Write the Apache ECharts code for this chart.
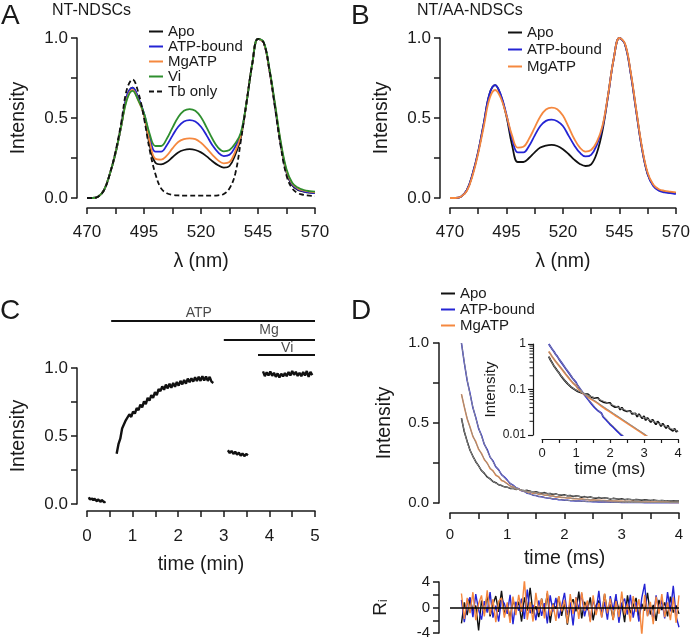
<!DOCTYPE html>
<html><head><meta charset="utf-8">
<script src="https://cdn.jsdelivr.net/npm/echarts@6/dist/echarts.min.js"></script>
<style>html,body{margin:0;padding:0;background:#fff}#c{width:693px;height:642px}</style>
</head><body><div id="c"></div>
<script>
// ---------- Panel A / B : emission spectra ----------
const wavelengths = [470,472.5,475,477.5,480,482.5,485,487.5,490,492.5,495,497.5,500,502.5,505,507.5,510,512.5,515,517.5,520,522.5,525,527.5,530,532.5,535,537.5,540,542.5,545,547.5,550,552.5,555,557.5,560,562.5,565,567.5,570];
const specA_Apo = [0,0,0.01,0.05,0.15,0.28,0.45,0.635,0.69,0.625,0.52,0.33,0.22,0.21,0.225,0.255,0.285,0.30,0.305,0.30,0.285,0.26,0.23,0.205,0.19,0.20,0.27,0.38,0.60,0.84,0.995,0.97,0.80,0.57,0.33,0.16,0.08,0.05,0.04,0.033,0.03];
const specA_ATP = [0,0,0.01,0.05,0.15,0.28,0.45,0.64,0.69,0.625,0.53,0.38,0.29,0.29,0.33,0.39,0.445,0.478,0.487,0.478,0.445,0.39,0.33,0.285,0.262,0.27,0.32,0.40,0.60,0.84,0.995,0.97,0.80,0.57,0.335,0.165,0.085,0.055,0.042,0.035,0.03];
const specA_Mg = [0,0,0.01,0.05,0.15,0.28,0.45,0.62,0.675,0.61,0.52,0.35,0.245,0.24,0.265,0.31,0.35,0.368,0.373,0.368,0.345,0.31,0.27,0.235,0.217,0.225,0.29,0.39,0.60,0.84,0.995,0.97,0.80,0.575,0.34,0.17,0.09,0.06,0.047,0.04,0.036];
const specA_Vi = [0,0,0.01,0.05,0.15,0.28,0.45,0.615,0.67,0.61,0.53,0.40,0.325,0.325,0.37,0.44,0.505,0.545,0.556,0.545,0.505,0.44,0.37,0.315,0.292,0.30,0.34,0.41,0.60,0.84,0.995,0.975,0.81,0.585,0.35,0.18,0.095,0.065,0.05,0.043,0.04];
const specA_Tb = [0,0,0.01,0.05,0.15,0.29,0.47,0.68,0.74,0.66,0.50,0.30,0.15,0.06,0.03,0.02,0.016,0.015,0.015,0.015,0.015,0.015,0.015,0.017,0.025,0.06,0.15,0.36,0.60,0.84,0.995,0.97,0.80,0.56,0.32,0.14,0.06,0.03,0.02,0.015,0.012];
const specB_Apo = [0,0,0.01,0.05,0.15,0.29,0.47,0.65,0.705,0.64,0.51,0.33,0.225,0.225,0.25,0.285,0.315,0.328,0.332,0.325,0.305,0.275,0.24,0.213,0.20,0.21,0.28,0.42,0.64,0.87,1.0,0.96,0.78,0.54,0.31,0.15,0.08,0.05,0.04,0.033,0.03];
const specB_ATP = [0,0,0.01,0.05,0.15,0.29,0.47,0.65,0.705,0.645,0.52,0.37,0.285,0.285,0.325,0.39,0.45,0.482,0.49,0.48,0.45,0.39,0.33,0.283,0.26,0.27,0.33,0.44,0.64,0.87,1.0,0.96,0.78,0.54,0.31,0.15,0.075,0.045,0.035,0.03,0.025];
const specB_Mg = [0,0,0.01,0.045,0.14,0.28,0.45,0.62,0.675,0.625,0.515,0.39,0.315,0.32,0.37,0.44,0.51,0.553,0.565,0.555,0.515,0.445,0.37,0.315,0.29,0.30,0.35,0.45,0.645,0.87,1.0,0.965,0.79,0.55,0.32,0.16,0.085,0.055,0.045,0.04,0.035];

// ---------- Panel C : time course ----------
const tC1 = [0.04,0.06,0.08,0.1,0.12,0.14,0.16,0.18,0.2,0.22,0.24,0.26,0.28,0.3,0.32,0.34,0.36,0.38,0.4];
const vC1 = [0.05,0.035,0.045,0.03,0.04,0.025,0.04,0.03,0.035,0.02,0.035,0.025,0.03,0.015,0.03,0.02,0.025,0.012,0.02];
const tC2 = [0.65,0.69,0.73,0.77,0.81,0.85,0.89,0.93,0.97,1.01,1.05,1.09,1.13,1.17,1.21,1.25,1.29,1.33,1.37,1.41,1.45,1.49,1.53,1.57,1.61,1.65,1.69,1.73,1.77,1.81,1.85,1.89,1.93,1.97,2.01,2.05,2.09,2.13,2.17,2.21,2.25,2.29,2.33,2.37,2.41,2.45,2.49,2.53,2.57,2.61,2.65,2.69,2.73,2.77];
const vC2 = [0.37,0.44,0.48,0.555,0.565,0.615,0.605,0.66,0.64,0.68,0.665,0.705,0.69,0.73,0.71,0.755,0.735,0.78,0.76,0.8,0.78,0.822,0.8,0.845,0.83,0.865,0.84,0.878,0.85,0.885,0.855,0.89,0.862,0.897,0.87,0.905,0.88,0.912,0.885,0.922,0.895,0.925,0.9,0.932,0.905,0.936,0.905,0.94,0.908,0.938,0.905,0.935,0.9,0.89];
const tC3 = [3.09,3.13,3.17,3.21,3.25,3.29,3.33,3.37,3.41,3.45,3.49,3.53];
const vC3 = [0.395,0.375,0.39,0.368,0.385,0.362,0.378,0.355,0.372,0.352,0.368,0.358];
const tC4 = [3.86,3.9,3.94,3.98,4.02,4.06,4.1,4.14,4.18,4.22,4.26,4.3,4.34,4.38,4.42,4.46,4.5,4.54,4.58,4.62,4.66,4.7,4.74,4.78,4.82,4.86,4.9,4.94];
const vC4 = [0.975,0.94,0.968,0.945,0.975,0.942,0.965,0.935,0.96,0.93,0.958,0.938,0.962,0.94,0.97,0.945,0.978,0.95,0.972,0.942,0.965,0.94,0.97,0.945,0.978,0.935,0.972,0.948];
const treatNames = ['ATP','Mg','Vi'];
const treatStart = [0.53,3.0,3.75];
const treatEnd = [5,5,5];
const treatLevel = [0.709,0.364,0.091];
const treatLabelX = [2.45,3.99,4.39];
const treatLabelLevel = [0.845,0.536,0.212];

// ---------- Panel D : decays ----------
const tD = [0.2,0.25,0.3,0.35,0.4,0.45,0.5,0.55,0.6,0.65,0.7,0.75,0.8,0.85,0.9,0.95,1,1.05,1.1,1.15,1.2,1.25,1.3,1.35,1.4,1.45,1.5,1.55,1.6,1.65,1.7,1.75,1.8,1.85,1.9,1.95,2,2.05,2.1,2.15,2.2,2.25,2.3,2.35,2.4,2.45,2.5,2.55,2.6,2.65,2.7,2.75,2.8,2.85,2.9,2.95,3,3.05,3.1,3.15,3.2,3.25,3.3,3.35,3.4,3.45,3.5,3.55,3.6,3.65,3.7,3.75,3.8,3.85,3.9,3.95,4];
const decayApo = [0.53,0.445,0.385,0.33,0.292,0.258,0.232,0.203,0.185,0.163,0.151,0.134,0.127,0.114,0.109,0.101,
 0.099,0.091,0.092,0.085,0.087,0.080,0.076,0.079,0.074,0.068,0.071,0.065,0.061,0.065,0.058,0.059,0.053,0.057,0.051,0.048,
 0.051,0.045,0.047,0.041,0.044,0.042,0.036,0.040,0.035,0.038,0.033,0.030,0.034,0.029,0.032,0.030,0.025,0.029,0.027,0.023,
 0.026,0.021,0.024,0.022,0.019,0.022,0.020,0.017,0.020,0.018,0.0155,0.018,0.0163,0.014,0.0162,0.0138,0.0145,0.0122,0.0138,0.0118,0.0124];
const decayATP = [1.00,0.875,0.765,0.685,0.595,0.535,0.465,0.423,0.366,0.334,0.287,0.263,0.226,0.207,0.177,0.162,
 0.143,0.122,0.112,0.096,0.089,0.076,0.072,0.061,0.057,0.049,0.047,0.040,0.039,0.034,0.031,0.030,0.025,0.0245,0.021,0.0205,
 0.0172,0.0176,0.0148,0.0143,0.0124,0.0125,0.0104,0.0103,0.0091,0.0089,0.0077,0.0078,0.0066,0.0067,0.0057,0.0057,0.0048,0.0049,0.0042,0.0043,
 0.0036,0.0038,0.0031,0.0034,0.0027,0.003,0.0024,0.0026,0.0021,0.0023,0.0018,0.002,0.0016,0.0017,0.0014,0.0015,0.0012,0.0013,0.0011,0.0011,0.001];
const decayMg = [0.68,0.6,0.525,0.475,0.415,0.385,0.335,0.31,0.27,0.25,0.215,0.202,0.173,0.164,0.141,0.134,
 0.121,0.106,0.1,0.089,0.087,0.078,0.077,0.069,0.069,0.061,0.062,0.055,0.055,0.049,0.049,0.043,0.044,0.038,0.039,0.034,
 0.035,0.0305,0.031,0.027,0.0278,0.0243,0.0247,0.0216,0.022,0.0193,0.0196,0.0172,0.0174,0.0154,0.0156,0.0137,0.0138,0.0122,0.0124,0.0109,
 0.011,0.0097,0.0098,0.0087,0.0088,0.0077,0.0078,0.0069,0.0069,0.0062,0.0062,0.0055,0.0056,0.0049,0.005,0.0044,0.0044,0.0039,0.0039,0.0035,0.0035];
const tFit = [0.2,0.3,0.4,0.5,0.6,0.7,0.8,0.9,1,1.1,1.2,1.3,1.4,1.5,1.6,1.7,1.8,1.9,2,2.1,2.2,2.3,2.4,2.5,2.6,2.7,2.8,2.9,3,3.1,3.2,3.3,3.4,3.5,3.6,3.7,3.8,3.9,4];
const fitApo = [0.53,0.38,0.29,0.23,0.183,0.149,0.125,0.108,0.097,0.090,0.084,0.078,0.073,0.068,0.064,0.060,0.056,0.052,0.048,0.045,0.042,0.039,0.037,0.034,0.032,0.030,0.028,0.026,0.024,0.0224,0.021,0.0196,0.0183,0.017,0.016,0.0149,0.0139,0.013,0.012];
const fitATP = [1.00,0.77,0.60,0.47,0.37,0.29,0.23,0.18,0.14,0.11,0.087,0.07,0.056,0.046,0.038,0.032,0.026,0.022,0.018,0.0155,0.013,0.011,0.0095,0.0082,0.007,0.006,0.005,0.0044,0.0038,0.0033,0.0029,0.0025,0.0022,0.0019,0.0017,0.0015,0.0013,0.0011,0.001];
const fitMg = [0.68,0.53,0.42,0.34,0.275,0.22,0.178,0.145,0.119,0.098,0.085,0.0755,0.0673,0.060,0.0535,0.0476,0.0425,0.0378,0.0337,0.030,0.0268,0.0239,0.0213,0.019,0.0169,0.0151,0.0134,0.012,0.0107,0.0095,0.0085,0.0076,0.0067,0.006,0.0054,0.0048,0.0043,0.0038,0.0034];
const residApo = [-2.5,0.8,-1.2,1.5,-0.6,0.3,-3.6,1.1,-0.9,2.0,-1.4,0.5,1.8,-0.7,2.6,-1.1,0.4,-1.8,1.2,-0.3,0.9,-2.2,1.6,-0.5,3.1,-1.0,0.2,-1.5,1.4,-0.8,2.2,-2.4,0.6,-0.2,1.7,-1.3,0.8,-2.7,0.4,1.3,-0.6,2.5,-1.7,0.9,-0.4,1.6,-2.0,0.3,1.1,-1.2,2.1,-0.7,0.5,-1.9,1.4,-0.3,0.7,-2.3,1.9,-0.9,0.2,1.5,-1.6,0.6,-0.5,2.3,-1.1,0.4,-2.1,1.2,-0.4,0.8,-1.4,1.7,-0.8,0.3,-1.0];
const residATP = [1.2,-2.3,0.7,1.6,-1.5,2.1,-0.4,-1.9,1.0,-0.8,2.4,-1.6,0.3,-2.2,1.3,0.6,-1.0,2.0,-2.6,0.9,-0.5,1.4,-1.8,2.8,-0.9,0.4,-2.0,1.1,-1.3,0.7,-2.5,1.9,-0.6,1.5,-1.7,0.2,2.3,-1.2,0.8,-2.8,1.6,-0.3,2.2,-1.4,0.5,-2.1,1.3,-0.7,2.6,-1.5,0.9,-1.9,1.8,-0.4,2.1,-2.4,0.6,1.4,-1.1,2.0,-1.6,0.8,-2.2,1.5,3.7,-1.3,0.4,-2.0,1.9,-0.8,1.2,-1.7,2.4,-0.6,3.4,-1.4,-3.1];
const residMg = [2.2,-1.8,1.5,-0.9,2.4,-2.0,0.6,1.9,-1.4,2.7,-1.1,1.3,-2.3,1.0,1.5,-1.6,0.8,-2.4,1.7,-1.2,2.0,-0.7,4.3,-1.9,0.9,-2.2,2.3,-0.8,1.4,-1.7,2.6,-1.3,0.5,-2.1,1.8,-0.6,1.2,-2.5,2.1,-1.0,1.6,-1.8,2.4,-0.5,1.1,-2.3,1.9,-1.2,0.7,-1.6,2.2,-0.9,1.4,-2.0,1.0,-1.5,2.5,-1.1,0.6,-2.2,1.8,-0.7,1.3,-4.4,2.0,-1.4,0.9,-2.6,1.7,-1.0,2.1,-1.5,0.8,-2.0,1.6,-2.4,1.9];
const logMinorTicks = [0.02,0.03,0.04,0.05,0.06,0.07,0.08,0.09,0.2,0.3,0.4,0.5,0.6,0.7,0.8,0.9];

// ---------- styling ----------
const FONT = '"Liberation Sans", Arial, Helvetica, sans-serif';
const INK = '#1a1a1a';
const C_APO = '#111111', C_ATP = '#2424d4', C_MG = '#f5883f', C_VI = '#2f8f2f', C_FIT = '#8c8c8c';
const pairs = (xs, ys) => xs.map((x, i) => [x, ys[i]]);
const f1 = v => v.toFixed(1);
function lbl(size, margin, fmt) { const o = { color: INK, fontFamily: FONT, fontSize: size, margin: margin }; if (fmt) o.formatter = fmt; return o; }
function ax(extra, lw, tl) {
  lw = lw || 1.5; tl = tl || 6;
  return Object.assign({
    type: 'value',
    axisLine: { show: true, onZero: false, lineStyle: { color: INK, width: lw } },
    axisTick: { show: true, length: tl, lineStyle: { color: INK, width: lw } },
    minorTick: { show: true, splitNumber: 2, length: tl, lineStyle: { color: INK, width: lw } },
    splitLine: { show: false }, minorSplitLine: { show: false },
    nameLocation: 'middle',
    nameTextStyle: { color: INK, fontFamily: FONT, fontSize: 19.5 }
  }, extra);
}
function ln(name, xi, data, color, width, extra) {
  return Object.assign({ type: 'line', name: name, xAxisIndex: xi, yAxisIndex: xi, data: data, symbol: 'none', showSymbol: false,
    lineStyle: { color: color, width: width }, itemStyle: { color: color }, silent: true, animation: false }, extra || {});
}
const hidden = (gi, min, max) => ({ type: 'value', gridIndex: gi, min: min, max: max, show: false, splitLine: { show: false } });
const legendBase = { orient: 'vertical', itemWidth: 14, itemHeight: 10, selectedMode: false, padding: 0,
  itemStyle: { opacity: 0, borderWidth: 0 },
  textStyle: { fontFamily: FONT, fontSize: 15, color: INK } };
const titleStyle = (size) => ({ fontFamily: FONT, fontSize: size, fontWeight: 'normal', color: INK });

const series = [];
const sm = 0.4;
// A
series.push(ln('Apo', 0, pairs(wavelengths, specA_Apo), C_APO, 1.8, { smooth: sm }));
series.push(ln('ATP-bound', 0, pairs(wavelengths, specA_ATP), C_ATP, 1.8, { smooth: sm }));
series.push(ln('MgATP', 0, pairs(wavelengths, specA_Mg), C_MG, 1.8, { smooth: sm }));
series.push(ln('Vi', 0, pairs(wavelengths, specA_Vi), C_VI, 1.8, { smooth: sm }));
series.push(ln('Tb only', 0, pairs(wavelengths, specA_Tb), C_APO, 1.8, { smooth: sm, lineStyle: { color: C_APO, width: 1.8, type: [5, 3] } }));
// B
series.push(ln('Apo', 1, pairs(wavelengths, specB_Apo), C_APO, 1.8, { smooth: sm }));
series.push(ln('ATP-bound', 1, pairs(wavelengths, specB_ATP), C_ATP, 1.8, { smooth: sm }));
series.push(ln('MgATP', 1, pairs(wavelengths, specB_Mg), C_MG, 1.8, { smooth: sm }));
// C
[[tC1, vC1], [tC2, vC2], [tC3, vC3], [tC4, vC4]].forEach(s => series.push(ln('trace', 2, pairs(s[0], s[1]), C_APO, 2.4)));
treatNames.forEach((n, i) => series.push(ln('bar-' + n, 3, [[treatStart[i], treatLevel[i]], [treatEnd[i], treatLevel[i]]], C_APO, 1.8)));
series.push({ type: 'scatter', xAxisIndex: 3, yAxisIndex: 3, silent: true, symbolSize: 1, itemStyle: { color: 'rgba(0,0,0,0)' },
  data: treatNames.map((n, i) => [treatLabelX[i], treatLabelLevel[i], n]),
  label: { show: true, position: 'inside', formatter: p => p.value[2], color: INK, fontFamily: FONT, fontSize: 14 } });
// D main
series.push(ln('Apo', 4, pairs(tD, decayApo), C_APO, 1.5));
series.push(ln('ATP-bound', 4, pairs(tD, decayATP), C_ATP, 1.5));
series.push(ln('MgATP', 4, pairs(tD, decayMg), C_MG, 1.5));
series.push(ln('fit', 4, pairs(tFit, fitApo), C_FIT, 1, { smooth: 0.3 }));
series.push(ln('fit', 4, pairs(tFit, fitATP), C_FIT, 1, { smooth: 0.3 }));
series.push(ln('fit', 4, pairs(tFit, fitMg), C_FIT, 1, { smooth: 0.3 }));
// D inset
series.push(ln('Apo', 5, pairs(tD, decayApo), C_APO, 1.8));
series.push(ln('ATP-bound', 5, pairs(tD, decayATP), C_ATP, 1.8));
series.push(ln('MgATP', 5, pairs(tD, decayMg), C_MG, 1.8));
series.push(ln('fit', 5, pairs(tFit, fitApo), C_FIT, 1, { smooth: 0.3 }));
series.push(ln('fit', 5, pairs(tFit, fitATP), C_FIT, 1, { smooth: 0.3 }));
series.push(ln('fit', 5, pairs(tFit, fitMg), C_FIT, 1, { smooth: 0.3 }));
series.push({ type: 'custom', xAxisIndex: 5, yAxisIndex: 5, silent: true, clip: false, z: 5,
  data: logMinorTicks.map(v => [0, v]),
  renderItem: (params, api) => {
    const p = api.coord([api.value(0), api.value(1)]);
    const x = p[0] - 9;
    return { type: 'line', shape: { x1: x - 3.5, y1: p[1], x2: x, y2: p[1] }, style: { stroke: INK, lineWidth: 1 } };
  } });
// D residuals
series.push(ln('resApo', 6, pairs(tD, residApo), C_APO, 1.4));
series.push(ln('resATP', 6, pairs(tD, residATP), C_ATP, 1.4));
series.push(ln('resMg', 6, pairs(tD, residMg), C_MG, 1.4, {
  markLine: { silent: true, symbol: 'none', animation: false, data: [{ yAxis: 0 }],
    lineStyle: { color: '#000', width: 1.6, type: 'solid' }, label: { show: false } } }));

const option = {
  backgroundColor: '#fff',
  animation: false,
  title: [
    { text: 'A', left: 1, top: 2, padding: 0, textStyle: titleStyle(28) },
    { text: 'NT-NDSCs', left: 52, top: 3, padding: 0, textStyle: titleStyle(16) },
    { text: 'B', left: 351, top: 2, padding: 0, textStyle: titleStyle(28) },
    { text: 'NT/AA-NDSCs', left: 417, top: 3, padding: 0, textStyle: titleStyle(16) },
    { text: 'C', left: 0, top: 297, padding: 0, textStyle: titleStyle(28) },
    { text: 'D', left: 351, top: 297, padding: 0, textStyle: titleStyle(28) }
  ],
  legend: [
    Object.assign({}, legendBase, { data: ['Apo', 'ATP-bound', 'MgATP', 'Vi', 'Tb only'], left: 148, top: 24, itemGap: 0 }),
    Object.assign({}, legendBase, { data: ['Apo', 'ATP-bound', 'MgATP'], left: 507, top: 25, itemGap: 2 }),
    Object.assign({}, legendBase, { data: ['Apo', 'ATP-bound', 'MgATP'], left: 440, top: 286, itemGap: 1 })
  ],
  grid: [
    { left: 87, top: 38, width: 228, height: 160 },
    { left: 450, top: 38, width: 229, height: 160 },
    { left: 87, top: 368, width: 228, height: 136 },
    { left: 87, top: 305, width: 228, height: 55 },
    { left: 450, top: 343, width: 229, height: 160 },
    { left: 542, top: 344, width: 136, height: 91 },
    { left: 450, top: 582, width: 229, height: 51 }
  ],
  xAxis: [
    ax({ gridIndex: 0, min: 470, max: 570, interval: 25, offset: 10, axisLabel: lbl(17, 16), name: 'λ (nm)', nameGap: 44 }),
    ax({ gridIndex: 1, min: 470, max: 570, interval: 25, offset: 10, axisLabel: lbl(17, 16), name: 'λ (nm)', nameGap: 44 }),
    ax({ gridIndex: 2, min: 0, max: 5, interval: 1, offset: 7, axisLabel: lbl(17, 17), name: 'time (min)', nameGap: 44 }),
    hidden(3, 0, 5),
    ax({ gridIndex: 4, min: 0, max: 4, interval: 1, offset: 10, axisLabel: lbl(15, 14), name: 'time (ms)', nameGap: 36 }),
    ax({ gridIndex: 5, min: 0, max: 4, interval: 1, offset: 4, axisLabel: lbl(13, 8), name: 'time (ms)', nameGap: 19,
      nameTextStyle: { color: INK, fontFamily: FONT, fontSize: 17 } }, 1.2, 4),
    hidden(6, 0, 4)
  ],
  yAxis: [
    ax({ gridIndex: 0, min: 0, max: 1, interval: 0.5, offset: 10, axisLabel: lbl(17, 9, f1), name: 'Intensity', nameGap: 48 }),
    ax({ gridIndex: 1, min: 0, max: 1, interval: 0.5, offset: 10, axisLabel: lbl(17, 9, f1), name: 'Intensity', nameGap: 48 }),
    ax({ gridIndex: 2, min: 0, max: 1, interval: 0.5, offset: 10, axisLabel: lbl(17, 9, f1), name: 'Intensity', nameGap: 48 }),
    hidden(3, 0, 1),
    ax({ gridIndex: 4, min: 0, max: 1, interval: 0.5, offset: 11, axisLabel: lbl(15, 10, f1), name: 'Intensity', nameGap: 44 }),
    ax({ gridIndex: 5, type: 'log', logBase: 10, min: 0.01, max: 1, offset: 9, axisLabel: lbl(12, 7),
      minorTick: { show: false }, name: 'Intensity', nameGap: 28,
      nameTextStyle: { color: INK, fontFamily: FONT, fontSize: 15 } }, 1.2, 5),
    ax({ gridIndex: 6, min: -4, max: 4, interval: 4, offset: 11, axisLabel: lbl(15, 9), name: '{r|R}{s|i}', nameGap: 49,
      nameTextStyle: { color: INK, fontFamily: FONT, fontSize: 19,
        rich: { r: { fontFamily: FONT, fontSize: 19, color: INK }, s: { fontFamily: FONT, fontSize: 12, color: INK, verticalAlign: 'bottom' } } } })
  ],
  series: series
};
const chart = echarts.init(document.getElementById('c'), null, { renderer: 'canvas' });
chart.setOption(option);
</script></body></html>
